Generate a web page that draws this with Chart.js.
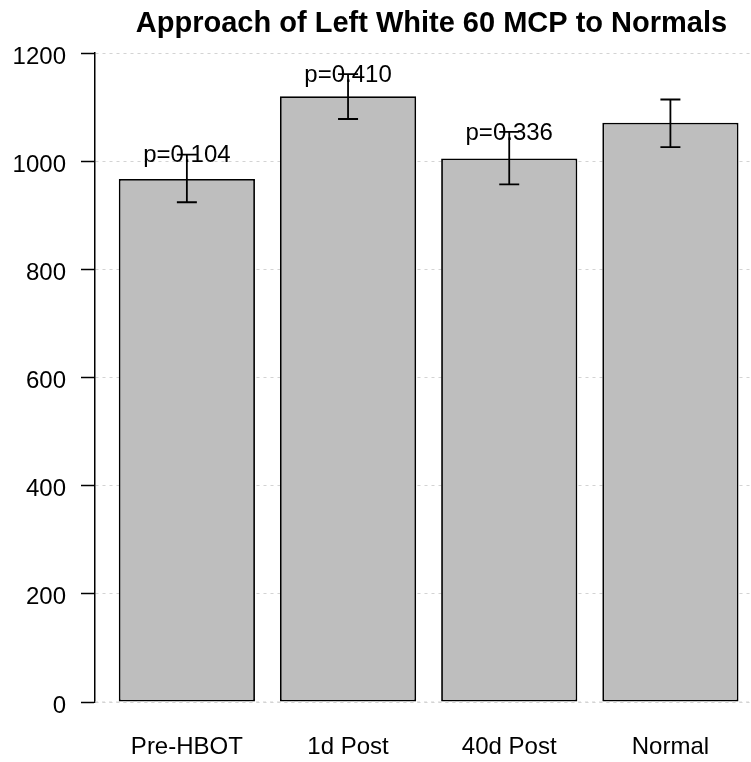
<!DOCTYPE html>
<html>
<head>
<meta charset="utf-8">
<script src="https://cdn.jsdelivr.net/npm/chart.js@4.4.0/dist/chart.umd.min.js"></script>
<style>
html,body{margin:0;padding:0;background:#fff;}
#wrap{width:751px;height:762px;position:relative;}
</style>
</head>
<body>
<div id="wrap"><canvas id="c" width="751" height="762"></canvas></div>
<script>
const titleText = "Approach of Left White 60 MCP to Normals";
const categories = ["Pre-HBOT", "1d Post", "40d Post", "Normal"];
const positions = [0.7, 1.9, 3.1, 4.3];
const means = [967, 1120, 1005, 1071];
const errLow = [924, 1078, 957, 1026];
const errHigh = [1012, 1161, 1054, 1114];
const pLabels = ["p=0.104", "p=0.410", "p=0.336", ""];
const yTicks = [0, 200, 400, 600, 800, 1000, 1200];

const FONT = "'Liberation Sans', Arial, Helvetica, sans-serif";

const overlay = {
  id: 'overlay',
  afterDatasetsDraw(chart) {
    const ctx = chart.ctx, xs = chart.scales.x, ys = chart.scales.y, ca = chart.chartArea;
    ctx.save();
    ctx.strokeStyle = '#D3D3D3';
    ctx.lineWidth = 1;
    ctx.setLineDash([3, 4]);
    const y0 = ys.getPixelForValue(0);
    ctx.beginPath(); ctx.moveTo(ca.left, y0); ctx.lineTo(ca.right, y0); ctx.stroke();
    ctx.setLineDash([]);
    ctx.strokeStyle = '#000';
    ctx.lineWidth = 1.8;
    positions.forEach((p, i) => {
      const x = xs.getPixelForValue(p);
      const yl = ys.getPixelForValue(errLow[i]);
      const yh = ys.getPixelForValue(errHigh[i]);
      ctx.beginPath();
      ctx.moveTo(x, yl); ctx.lineTo(x, yh);
      ctx.moveTo(x - 10, yl); ctx.lineTo(x + 10, yl);
      ctx.moveTo(x - 10, yh); ctx.lineTo(x + 10, yh);
      ctx.stroke();
    });
    ctx.fillStyle = '#000';
    ctx.font = "24px " + FONT;
    ctx.textAlign = 'center';
    ctx.textBaseline = 'middle';
    positions.forEach((p, i) => {
      if (!pLabels[i]) return;
      ctx.fillText(pLabels[i], xs.getPixelForValue(p), ys.getPixelForValue(errHigh[i]) + 1);
    });
    ctx.font = "bold 29px " + FONT;
    ctx.textBaseline = 'alphabetic';
    ctx.fillText(titleText, 431.5, 32);
    ctx.restore();
  }
};

new Chart(document.getElementById('c'), {
  type: 'bar',
  data: {
    datasets: [{
      data: positions.map((p, i) => ({ x: p, y: means[i] })),
      backgroundColor: '#BEBEBE',
      borderColor: '#000',
      borderWidth: 1.8,
      borderSkipped: false,
      barPercentage: 0.845,
      categoryPercentage: 1.0
    }]
  },
  options: {
    responsive: false,
    animation: false,
    devicePixelRatio: 1,
    layout: { padding: { left: 0, right: 0, top: 53, bottom: 0 } },
    plugins: { legend: { display: false }, title: { display: false }, tooltip: { enabled: false } },
    scales: {
      x: {
        type: 'linear',
        offset: false,
        min: 0.016,
        max: 4.9,
        afterBuildTicks: (s) => { s.ticks = positions.map(v => ({ value: v })); },
        afterFit: (s) => { s.height = 60; },
        grid: { display: false, offset: false },
        border: { display: false },
        ticks: {
          autoSkip: false,
          maxRotation: 0,
          padding: 23,
          color: '#000',
          font: { family: FONT, size: 24 },
          callback: (v) => { const i = positions.indexOf(Math.round(v * 10) / 10); return i >= 0 ? categories[i] : ''; }
        }
      },
      y: {
        min: 0,
        max: 1200,
        afterBuildTicks: (s) => { s.ticks = yTicks.map(v => ({ value: v })); },
        afterFit: (s) => { s.width = 95; },
        grid: {
          color: '#D3D3D3',
          lineWidth: 1,
          tickColor: '#000',
          tickLength: 14,
          tickWidth: 1.5,
          tickBorderDash: [],
          drawTicks: true
        },
        border: { display: true, color: '#000', width: 1.5, dash: [3, 4] },
        ticks: {
          padding: 15,
          color: '#000',
          labelOffset: 4,
          font: { family: FONT, size: 24 },
          callback: (v) => String(v)
        }
      }
    }
  },
  plugins: [overlay]
});
</script>
</body>
</html>
